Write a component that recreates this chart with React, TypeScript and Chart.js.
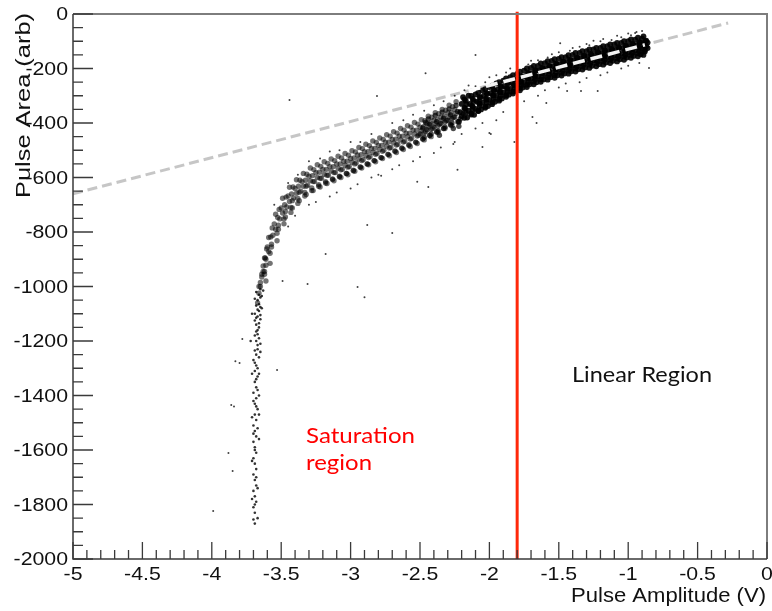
import { useEffect, useRef } from "react";
import { Chart, registerables } from "chart.js";

Chart.register(...registerables);

// ---------- axes ----------
const xTickValues = [-5, -4.5, -4, -3.5, -3, -2.5, -2, -1.5, -1, -0.5, 0];
const xTickLabels = ["-5", "-4.5", "-4", "-3.5", "-3", "-2.5", "-2", "-1.5", "-1", "-0.5", "0"];
const yTickValues = [0, -200, -400, -600, -800, -1000, -1200, -1400, -1600, -1800, -2000];
const yTickLabels = ["0", "-200", "-400", "-600", "-800", "-1000", "-1200", "-1400", "-1600", "-1800", "-2000"];
const xTitle = "Pulse Amplitude (V)";
const yTitle = "Pulse Area (arb)";
const linearLabel = "Linear Region";
const saturationLabel = ["Saturation", "region"];

// ---------- reference lines ----------
const fitLine: [number, number][] = [[-5, -660], [-0.28, -33]];
const fitHighlight: [number, number][] = [[-2.15, -282], [-0.88, -113]];
const cutLine: [number, number][] = [[-1.8, 8], [-1.8, -2000]];

// ---------- scatter data ----------
const denseBand: [number, number][] = [
  [-2.22,-395],[-2.21,-360],[-2.2,-330],[-2.19,-305],[-2.2,-375],[-2.18,-345],[-2.17,-318],
  [-2.16,-380],[-2.15,-355],[-2.14,-330],[-2.15,-300],[-2.13,-365],[-2.12,-340],[-2.12,-312],
  [-2.11,-370],[-2.1,-348],[-2.09,-322],[-2.1,-295],[-2.08,-355],[-2.07,-330],[-2.07,-305],
  [-2.06,-350],[-2.05,-325],[-2.04,-300],[-2.05,-280],[-2.03,-340],[-2.02,-315],[-2.02,-290],
  [-2.01,-338],[-2.0,-315],[-1.99,-290],[-2.0,-268],[-1.98,-325],[-1.97,-300],[-1.97,-278],
  [-1.96,-322],[-1.95,-300],[-1.94,-278],[-1.95,-255],[-1.93,-312],[-1.92,-288],[-1.92,-265],
  [-1.91,-310],[-1.9,-288],[-1.89,-265],[-1.9,-245],[-1.88,-298],[-1.87,-275],[-1.87,-252],
  [-1.86,-296],[-1.85,-275],[-1.84,-252],[-1.85,-232],[-1.83,-285],[-1.82,-262],[-1.82,-240],
  [-1.81,-282],[-1.8,-262],[-1.79,-240],[-1.8,-220],[-1.78,-272],[-1.77,-250],[-1.77,-228],
  [-1.76,-270],[-1.75,-250],[-1.74,-228],[-1.75,-208],[-1.73,-260],[-1.72,-238],[-1.72,-216],
  [-1.71,-258],[-1.7,-238],[-1.69,-218],[-1.7,-198],[-1.68,-248],[-1.67,-228],[-1.67,-206],
  [-1.66,-250],[-1.65,-230],[-1.64,-208],[-1.65,-190],[-1.63,-240],[-1.62,-218],[-1.62,-198],
  [-1.61,-240],[-1.6,-220],[-1.59,-200],[-1.6,-180],[-1.58,-232],[-1.57,-210],[-1.57,-190],
  [-1.56,-232],[-1.55,-213],[-1.54,-192],[-1.55,-172],[-1.53,-225],[-1.52,-202],[-1.52,-182],
  [-1.51,-225],[-1.5,-205],[-1.49,-185],[-1.5,-165],[-1.48,-216],[-1.47,-195],[-1.47,-175],
  [-1.46,-218],[-1.45,-198],[-1.44,-178],[-1.45,-158],[-1.43,-208],[-1.42,-188],[-1.42,-168],
  [-1.41,-210],[-1.4,-190],[-1.39,-170],[-1.4,-150],[-1.38,-200],[-1.37,-180],[-1.37,-160],
  [-1.36,-203],[-1.35,-183],[-1.34,-163],[-1.35,-143],[-1.33,-193],[-1.32,-173],[-1.32,-153],
  [-1.31,-196],[-1.3,-176],[-1.29,-156],[-1.3,-136],[-1.28,-186],[-1.27,-166],[-1.27,-146],
  [-1.26,-190],[-1.25,-170],[-1.24,-150],[-1.25,-130],[-1.23,-180],[-1.22,-160],[-1.22,-140],
  [-1.21,-184],[-1.2,-164],[-1.19,-144],[-1.2,-124],[-1.18,-174],[-1.17,-154],[-1.17,-134],
  [-1.16,-178],[-1.15,-158],[-1.14,-138],[-1.15,-118],[-1.13,-168],[-1.12,-148],[-1.12,-128],
  [-1.11,-172],[-1.1,-152],[-1.09,-132],[-1.1,-112],[-1.08,-162],[-1.07,-142],[-1.07,-122],
  [-1.06,-166],[-1.05,-146],[-1.04,-126],[-1.05,-106],[-1.03,-156],[-1.02,-136],[-1.02,-116],
  [-1.01,-160],[-1.0,-140],[-0.99,-120],[-1.0,-100],[-0.98,-150],[-0.97,-130],[-0.97,-110],
  [-0.96,-154],[-0.95,-134],[-0.94,-114],[-0.95,-94],[-0.93,-144],[-0.92,-124],[-0.92,-104],
  [-0.91,-148],[-0.9,-128],[-0.89,-108],[-0.9,-90],[-0.88,-138],[-0.87,-118],[-0.87,-98],
  [-0.86,-125],[-0.86,-105],
];

const denseBandFill: [number, number][] = [
  [-2.18,-381],[-2.17,-362],[-2.175,-347],[-2.165,-331],[-2.18,-313],
  [-2.13,-369],[-2.12,-351],[-2.125,-336],[-2.115,-319],[-2.13,-301],
  [-2.08,-356],[-2.07,-338],[-2.075,-323],[-2.065,-306],[-2.08,-288],
  [-2.03,-344],[-2.02,-326],[-2.025,-311],[-2.015,-294],[-2.03,-276],
  [-1.98,-331],[-1.97,-313],[-1.975,-298],[-1.965,-281],[-1.98,-263],
  [-1.93,-318],[-1.92,-300],[-1.925,-285],[-1.915,-268],[-1.93,-250],
  [-1.88,-304],[-1.87,-286],[-1.875,-271],[-1.865,-254],[-1.88,-236],
  [-1.83,-292],[-1.82,-274],[-1.825,-259],[-1.815,-242],[-1.83,-224],
  [-1.78,-280],[-1.77,-262],[-1.775,-247],[-1.765,-230],[-1.78,-212],
  [-1.73,-268],[-1.72,-250],[-1.725,-235],[-1.715,-218],[-1.73,-200],
  [-1.68,-258],[-1.67,-240],[-1.675,-225],[-1.665,-208],[-1.68,-190],
  [-1.63,-249],[-1.62,-231],[-1.625,-216],[-1.615,-199],[-1.63,-181],
  [-1.58,-241],[-1.57,-223],[-1.575,-208],[-1.565,-191],[-1.58,-173],
  [-1.53,-234],[-1.52,-216],[-1.525,-201],[-1.515,-184],[-1.53,-166],
  [-1.48,-226],[-1.47,-208],[-1.475,-193],[-1.465,-176],[-1.48,-158],
  [-1.43,-219],[-1.42,-201],[-1.425,-186],[-1.415,-169],[-1.43,-151],
  [-1.38,-211],[-1.37,-193],[-1.375,-178],[-1.365,-161],[-1.38,-143],
  [-1.33,-204],[-1.32,-186],[-1.325,-171],[-1.315,-154],[-1.33,-136],
  [-1.28,-198],[-1.27,-180],[-1.275,-165],[-1.265,-148],[-1.28,-130],
  [-1.23,-192],[-1.22,-174],[-1.225,-159],[-1.215,-142],[-1.23,-124],
  [-1.18,-186],[-1.17,-168],[-1.175,-153],[-1.165,-136],[-1.18,-118],
  [-1.13,-180],[-1.12,-162],[-1.125,-147],[-1.115,-130],[-1.13,-112],
  [-1.08,-174],[-1.07,-156],[-1.075,-141],[-1.065,-124],[-1.08,-106],
  [-1.03,-168],[-1.02,-150],[-1.025,-135],[-1.015,-118],[-1.03,-100],
  [-0.98,-161],[-0.97,-143],[-0.975,-128],[-0.965,-111],[-0.98,-93],
  [-0.93,-155],[-0.92,-137],[-0.925,-122],[-0.915,-105],[-0.93,-87],
  [-0.89,-150],[-0.88,-132],[-0.885,-117],[-0.875,-100],[-0.89,-82],
];

// darker transition segment between the curved band and the linear band
const transitionBand: [number, number][] = [
  [-2.5,-440],[-2.48,-418],[-2.46,-398],[-2.47,-452],[-2.45,-425],[-2.43,-405],[-2.44,-385],
  [-2.42,-440],[-2.4,-415],[-2.38,-395],[-2.39,-372],[-2.37,-428],[-2.35,-402],[-2.33,-382],
  [-2.34,-360],[-2.32,-415],[-2.3,-390],[-2.28,-370],[-2.29,-348],[-2.27,-400],[-2.25,-378],
  [-2.23,-358],[-2.24,-336],[-2.26,-420],[-2.22,-412],[-2.21,-385],[-2.19,-365],[-2.36,-445],
];

const curveBand: [number, number][] = [
  [-2.27,-410],[-2.26,-380],[-2.25,-350],[-2.24,-322],[-2.23,-395],[-2.24,-365],
  [-2.32,-420],[-2.31,-392],[-2.3,-362],[-2.29,-335],[-2.28,-405],[-2.29,-378],
  [-2.37,-435],[-2.36,-405],[-2.35,-378],[-2.34,-350],[-2.33,-420],[-2.34,-390],
  [-2.42,-450],[-2.41,-420],[-2.4,-390],[-2.39,-362],[-2.38,-432],[-2.39,-402],
  [-2.47,-462],[-2.46,-432],[-2.45,-402],[-2.44,-375],[-2.43,-445],[-2.44,-415],
  [-2.52,-475],[-2.51,-445],[-2.5,-415],[-2.49,-388],[-2.48,-458],[-2.49,-428],
  [-2.57,-486],[-2.56,-456],[-2.55,-426],[-2.54,-398],[-2.53,-470],[-2.54,-440],
  [-2.62,-497],[-2.61,-467],[-2.6,-437],[-2.59,-410],[-2.58,-480],[-2.59,-450],
  [-2.67,-508],[-2.66,-478],[-2.65,-448],[-2.64,-420],[-2.63,-492],[-2.64,-462],
  [-2.72,-520],[-2.71,-490],[-2.7,-460],[-2.69,-432],[-2.68,-503],[-2.69,-473],
  [-2.77,-530],[-2.76,-500],[-2.75,-470],[-2.74,-443],[-2.73,-515],[-2.74,-485],
  [-2.82,-542],[-2.81,-512],[-2.8,-482],[-2.79,-455],[-2.78,-527],[-2.79,-497],
  [-2.87,-553],[-2.86,-523],[-2.85,-493],[-2.84,-466],[-2.83,-538],[-2.84,-508],
  [-2.92,-565],[-2.91,-535],[-2.9,-505],[-2.89,-478],[-2.88,-550],[-2.89,-520],
  [-2.97,-577],[-2.96,-547],[-2.95,-517],[-2.94,-490],[-2.93,-562],[-2.94,-532],
  [-3.02,-590],[-3.01,-560],[-3.0,-530],[-2.99,-502],[-2.98,-575],[-2.99,-545],
  [-3.07,-600],[-3.06,-570],[-3.05,-540],[-3.04,-512],[-3.03,-585],[-3.04,-555],
  [-3.12,-612],[-3.11,-582],[-3.1,-550],[-3.09,-522],[-3.08,-597],[-3.09,-566],
  [-3.17,-622],[-3.16,-592],[-3.15,-560],[-3.14,-532],[-3.13,-607],[-3.14,-576],
  [-3.22,-635],[-3.21,-603],[-3.2,-570],[-3.19,-542],[-3.18,-620],[-3.19,-588],
  [-3.27,-648],[-3.26,-615],[-3.25,-582],[-3.24,-553],[-3.23,-632],[-3.24,-600],
  [-3.32,-662],[-3.31,-628],[-3.3,-595],[-3.29,-565],[-3.28,-648],[-3.29,-612],
  [-3.37,-685],[-3.36,-650],[-3.35,-615],[-3.34,-585],[-3.33,-668],[-3.34,-632],
  [-3.42,-712],[-3.41,-675],[-3.4,-640],[-3.39,-608],[-3.38,-695],[-3.39,-658],
  [-3.47,-745],[-3.46,-708],[-3.45,-668],[-3.44,-636],[-3.43,-728],[-3.44,-688],
  [-3.52,-790],[-3.51,-752],[-3.5,-712],[-3.49,-676],[-3.48,-770],[-3.49,-730],
  [-3.57,-855],[-3.56,-812],[-3.55,-770],[-3.54,-735],[-3.53,-832],[-3.54,-790],
  [-3.62,-945],[-3.61,-900],[-3.6,-855],[-3.59,-820],[-3.58,-915],[-3.59,-872],
  [-3.65,-1000],[-3.64,-965],[-3.63,-925],[-3.62,-895],[-3.61,-980],[-3.63,-945],
  [-3.67,-1060],[-3.66,-1025],[-3.65,-985],[-3.64,-955],[-3.66,-1000],
];

const curveBandFill: [number, number][] = [
  [-2.28,-407],[-2.27,-384],[-2.275,-362],[-2.265,-340],
  [-2.33,-420],[-2.32,-397],[-2.325,-375],[-2.315,-353],
  [-2.38,-433],[-2.37,-410],[-2.375,-388],[-2.365,-366],
  [-2.43,-446],[-2.42,-423],[-2.425,-401],[-2.415,-379],
  [-2.48,-459],[-2.47,-436],[-2.475,-414],[-2.465,-392],
  [-2.53,-471],[-2.52,-448],[-2.525,-426],[-2.515,-404],
  [-2.58,-482],[-2.57,-459],[-2.575,-437],[-2.565,-415],
  [-2.63,-493],[-2.62,-470],[-2.625,-448],[-2.615,-426],
  [-2.68,-504],[-2.67,-481],[-2.675,-459],[-2.665,-437],
  [-2.73,-515],[-2.72,-492],[-2.725,-470],[-2.715,-448],
  [-2.78,-527],[-2.77,-504],[-2.775,-482],[-2.765,-460],
  [-2.83,-538],[-2.82,-515],[-2.825,-493],[-2.815,-471],
  [-2.88,-550],[-2.87,-527],[-2.875,-505],[-2.865,-483],
  [-2.93,-561],[-2.92,-538],[-2.925,-516],[-2.915,-494],
  [-2.98,-573],[-2.97,-550],[-2.975,-528],[-2.965,-506],
  [-3.03,-585],[-3.02,-562],[-3.025,-540],[-3.015,-518],
  [-3.08,-595],[-3.07,-572],[-3.075,-550],[-3.065,-528],
  [-3.13,-605],[-3.12,-582],[-3.125,-560],[-3.115,-538],
  [-3.18,-615],[-3.17,-592],[-3.175,-570],[-3.165,-548],
  [-3.23,-626],[-3.22,-603],[-3.225,-581],[-3.215,-559],
  [-3.28,-638],[-3.27,-615],[-3.275,-593],[-3.265,-571],
  [-3.33,-655],[-3.32,-632],[-3.325,-610],[-3.315,-588],
  [-3.38,-677],[-3.37,-654],[-3.375,-632],[-3.365,-610],
  [-3.43,-710],[-3.42,-685],[-3.425,-660],[-3.415,-635],
  [-3.48,-752],[-3.47,-725],[-3.475,-700],[-3.465,-672],
  [-3.53,-805],[-3.52,-775],[-3.525,-747],[-3.515,-717],
  [-3.58,-878],[-3.57,-845],[-3.575,-818],[-3.565,-785],
  [-3.62,-955],[-3.61,-922],[-3.615,-895],[-3.605,-862],
];

const tail: [number, number][] = [
  [-3.66,-1030],[-3.67,-1050],[-3.68,-1070],[-3.66,-1090],[-3.67,-1110],[-3.69,-1125],[-3.68,-1140],
  [-3.67,-1160],[-3.69,-1180],[-3.68,-1200],[-3.67,-1215],[-3.69,-1235],[-3.68,-1250],[-3.7,-1270],
  [-3.68,-1290],[-3.69,-1310],[-3.67,-1330],[-3.69,-1350],[-3.68,-1370],[-3.7,-1390],[-3.68,-1410],
  [-3.69,-1430],[-3.67,-1450],[-3.69,-1470],[-3.68,-1490],[-3.7,-1510],[-3.69,-1530],[-3.68,-1550],
  [-3.7,-1570],[-3.69,-1590],[-3.68,-1610],[-3.7,-1630],[-3.69,-1650],[-3.68,-1670],[-3.7,-1690],
  [-3.69,-1710],[-3.68,-1730],[-3.7,-1750],[-3.69,-1770],[-3.68,-1790],[-3.7,-1810],[-3.69,-1830],
  [-3.7,-1855],[-3.69,-1870],
  [-3.65,-1040],[-3.66,-1065],[-3.67,-1085],[-3.65,-1120],[-3.66,-1150],[-3.68,-1165],[-3.66,-1190],
  [-3.67,-1230],[-3.66,-1260],[-3.67,-1300],[-3.68,-1340],[-3.67,-1380],[-3.68,-1440],[-3.67,-1520],
  [-3.69,-1600],[-3.68,-1700],[-3.69,-1800],
  [-3.71,-1100],[-3.64,-1080],[-3.72,-1200],[-3.65,-1240],[-3.71,-1320],[-3.66,-1400],[-3.71,-1480],
  [-3.66,-1560],[-3.71,-1640],[-3.67,-1740],[-3.71,-1780],[-3.67,-1850],[-3.65,-1010],[-3.64,-1035],
  [-3.63,-1015],[-3.68,-1020],[-3.69,-1045],[-3.65,-1075],[-3.69,-1100],[-3.65,-1105],[-3.68,-1115],
  [-3.66,-1135],[-3.67,-1175],[-3.65,-1210],[-3.69,-1280],[-3.66,-1320],[-3.7,-1420],[-3.66,-1470],
  [-3.7,-1540],
];

const strays: [number, number][] = [
  [-3.78,-1193],[-3.83,-1274],[-3.80,-1281],[-3.53,-1306],[-3.86,-1435],[-3.84,-1440],[-3.88,-1611],
  [-3.85,-1677],[-3.99,-1824],[-2.88,-774],[-2.95,-1002],[-3.18,-881],[-3.31,-991],[-3.49,-980],
  [-2.9,-1039],[-2.70,-804],[-2.81,-301],[-2.23,-572],[-2.05,-488],[-2.26,-477],[-2.78,-594],
  [-2.52,-616],[-2.44,-635],[-1.99,-440],[-1.82,-470],[-2.1,-150],[-1.69,-378],[-1.66,-400],
  [-1.59,-327],[-1.34,-283],[-1.44,-283],[-1.22,-283],[-0.85,-198],[-2.0,-437],[-1.49,-107],
  [-3.44,-316],[-2.46,-217],
  [-3.55,-700],[-3.45,-620],[-3.3,-540],[-3.15,-505],[-3.0,-470],[-2.85,-440],[-2.7,-400],
  [-2.55,-370],[-2.4,-335],[-2.25,-300],[-2.1,-265],[-1.95,-225],[-1.8,-195],[-1.65,-170],
  [-1.5,-140],[-1.35,-120],[-1.2,-100],[-1.05,-85],[-0.95,-70],[-0.9,-62],
  [-3.45,-780],[-3.3,-700],[-3.15,-670],[-3.0,-640],[-2.85,-600],[-2.7,-570],[-2.55,-540],
  [-2.4,-510],[-2.25,-470],[-2.1,-420],[-1.95,-390],[-1.8,-330],[-1.65,-300],[-1.5,-270],
  [-1.35,-250],[-1.2,-225],[-1.05,-200],[-0.92,-180],
  [-3.38,-590],[-3.22,-530],[-3.08,-500],[-2.93,-470],[-2.62,-390],[-2.47,-355],[-2.33,-320],
  [-2.18,-280],[-2.03,-250],[-1.88,-215],[-1.72,-185],[-1.58,-160],[-1.42,-135],[-1.28,-115],
  [-1.12,-95],[-0.98,-78],
  [-3.4,-740],[-3.25,-690],[-3.1,-655],[-2.95,-625],[-2.8,-590],[-2.65,-555],[-2.5,-525],
  [-2.35,-490],[-2.2,-440],[-2.05,-400],[-1.9,-360],[-1.75,-320],[-1.6,-280],[-1.45,-255],
  [-1.3,-235],[-1.15,-215],[-1.0,-190],
  [-1.3,-110],[-1.18,-92],[-1.08,-80],[-1.0,-72],[-0.94,-66],[-1.25,-98],[-1.4,-125],[-1.55,-148],
  [-1.7,-172],[-1.85,-200],[-2.0,-232],[-2.15,-262],
];

const toXY = (arr: [number, number][]) => arr.map(([x, y]) => ({ x, y }));

function stretchText(
  ctx: CanvasRenderingContext2D,
  text: string,
  x: number,
  y: number,
  font: string,
  opts: { width?: number; scale?: number; align?: CanvasTextAlign; baseline?: CanvasTextBaseline; color?: string; rotate?: number }
) {
  ctx.save();
  ctx.font = font;
  const w = ctx.measureText(text).width;
  const s = opts.width ? opts.width / w : opts.scale ?? 1;
  ctx.translate(x, y);
  if (opts.rotate) ctx.rotate(opts.rotate);
  ctx.scale(s, 1);
  ctx.textAlign = opts.align ?? "left";
  ctx.textBaseline = opts.baseline ?? "alphabetic";
  ctx.fillStyle = opts.color ?? "#111";
  ctx.fillText(text, 0, 0);
  ctx.restore();
}

const framePlugin = {
  id: "rootFrame",
  afterDraw(chart: any) {
    const ctx: CanvasRenderingContext2D = chart.ctx;
    const xs = chart.scales.x;
    const ys = chart.scales.y;
    const { left, right, top, bottom } = chart.chartArea;
    ctx.save();
    ctx.strokeStyle = "#7d7d7d";
    ctx.lineWidth = 2;
    ctx.beginPath();
    ctx.moveTo(left, top);
    ctx.lineTo(right, top);
    ctx.lineTo(right, bottom);
    ctx.stroke();
    ctx.strokeStyle = "#3a3a3a";
    ctx.lineWidth = 1.5;
    ctx.beginPath();
    ctx.moveTo(left, top);
    ctx.lineTo(left, bottom);
    ctx.lineTo(right, bottom);
    ctx.stroke();
    ctx.lineWidth = 1.3;
    ctx.beginPath();
    for (let v = 0; v >= -2000; v -= 50) {
      const py = ys.getPixelForValue(v);
      const major = v % 200 === 0;
      ctx.moveTo(left, py);
      ctx.lineTo(left + (major ? 20 : 10), py);
    }
    for (let i = 0; i <= 50; i++) {
      const v = -5 + i * 0.1;
      const px = xs.getPixelForValue(v);
      const major = i % 5 === 0;
      ctx.moveTo(px, bottom);
      ctx.lineTo(px, bottom - (major ? 17 : 9));
    }
    ctx.stroke();
    ctx.restore();

    const tickFont = "19px 'Liberation Sans', Arial, sans-serif";
    yTickValues.forEach((v, i) => {
      stretchText(ctx, yTickLabels[i], 68, ys.getPixelForValue(v) + 1, tickFont, {
        scale: 1.12, align: "right", baseline: "middle",
      });
    });
    xTickValues.forEach((v, i) => {
      stretchText(ctx, xTickLabels[i], xs.getPixelForValue(v), 580, tickFont, {
        scale: 1.12, align: "center", baseline: "alphabetic",
      });
    });
    const titleFont = "21px 'Liberation Sans', Arial, sans-serif";
    stretchText(ctx, xTitle, 766, 602, titleFont, { width: 195, align: "right" });
    stretchText(ctx, yTitle, 30, 198, titleFont, { width: 185, align: "left", rotate: -Math.PI / 2 });

    const noteFont = "22px Lato, 'Open Sans', sans-serif";
    stretchText(ctx, linearLabel, 572, 382, noteFont, { width: 140, color: "#111" });
    stretchText(ctx, saturationLabel[0], 306, 443, noteFont, { width: 109, color: "#ff0000" });
    stretchText(ctx, saturationLabel[1], 306, 470, noteFont, { width: 66, color: "#ff0000" });
  },
};

export default function App() {
  const ref = useRef<HTMLCanvasElement | null>(null);
  useEffect(() => {
    if (!ref.current) return;
    const dot = (data: [number, number][], r: number, c: string, order: number) => ({
      data: toXY(data),
      pointRadius: r,
      backgroundColor: c,
      borderWidth: 0,
      order,
    });
    const chart = new Chart(ref.current, {
      type: "scatter",
      data: {
        datasets: [
          {
            type: "line",
            data: toXY(fitLine),
            borderColor: "rgba(195,195,195,0.95)",
            borderWidth: 3,
            borderDash: [10, 5],
            pointRadius: 0,
            order: 10,
          } as any,
          dot(strays, 1, "rgba(0,0,0,0.75)", 6),
          dot(tail, 1.3, "rgba(0,0,0,0.8)", 6),
          dot(curveBand, 2.7, "rgba(0,0,0,0.55)", 5),
          dot(curveBandFill, 2.7, "rgba(0,0,0,0.55)", 5),
          dot(transitionBand, 2.7, "rgba(0,0,0,0.7)", 5),
          dot(denseBand, 2.9, "rgba(0,0,0,0.9)", 4),
          dot(denseBandFill, 2.9, "rgba(0,0,0,0.9)", 4),
          {
            type: "line",
            data: toXY(fitHighlight),
            borderColor: "rgba(255,255,255,0.95)",
            borderWidth: 3.5,
            borderDash: [12, 6],
            pointRadius: 0,
            order: 2,
          } as any,
          {
            type: "line",
            data: toXY(cutLine),
            borderColor: "rgb(255,40,10)",
            borderWidth: 3,
            pointRadius: 0,
            clip: false,
            order: 1,
          } as any,
        ],
      },
      options: {
        animation: false,
        responsive: false,
        devicePixelRatio: 1,
        layout: { padding: { left: 73, right: 5, top: 14, bottom: 52 } },
        plugins: { legend: { display: false }, tooltip: { enabled: false } },
        scales: {
          x: { type: "linear", min: -5, max: 0, display: false },
          y: { type: "linear", min: -2000, max: 0, display: false },
        },
      },
      plugins: [framePlugin],
    });
    return () => chart.destroy();
  }, []);
  return (
    <div style={{ position: "fixed", left: 0, top: 0, width: 772, height: 611, background: "#fff" }}>
      <canvas ref={ref} width={772} height={611} />
    </div>
  );
}
